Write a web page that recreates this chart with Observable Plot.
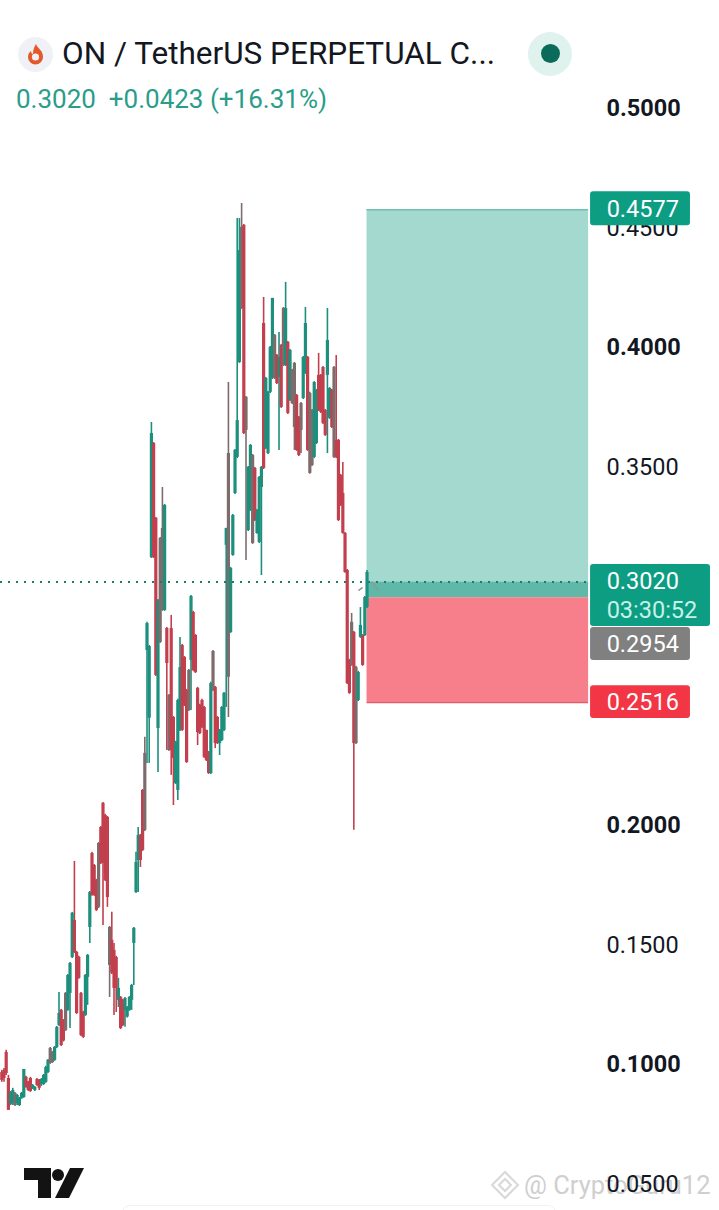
<!doctype html>
<html><head><meta charset="utf-8">
<script src="https://cdn.jsdelivr.net/npm/d3@7"></script>
<script src="https://cdn.jsdelivr.net/npm/@observablehq/plot@0.6"></script>
<style>
html,body{margin:0;padding:0;background:#fff;width:719px;height:1210px;overflow:hidden;font-family:Roboto,sans-serif}
#chart{position:absolute;left:0;top:0;z-index:2}
#chart svg{display:block}
.abs{position:absolute;white-space:nowrap}
#title{left:62px;top:35px;font-size:31.5px;line-height:38px;color:#131722;z-index:3}
#quote{left:16px;top:84px;font-size:26px;line-height:30px;color:#2a9d8a;z-index:3;word-spacing:0}
#badge{left:18px;top:37px;width:35px;height:35px;border-radius:50%;background:#eff1f7;z-index:3}
#pulse{left:528px;top:32px;width:44px;height:44px;border-radius:50%;background:#dff2ee;z-index:3}
#pulse i{position:absolute;left:13px;top:12px;width:19px;height:19px;border-radius:50%;background:#0b6b5a}
#mark{left:524px;top:1170px;font-size:25.5px;line-height:30px;color:#cfcfcf;z-index:1}
#gem{left:490px;top:1170px;z-index:1}
#tv{left:24px;top:1168px;z-index:3}
#panel{left:122px;top:1205px;width:432px;height:8px;border:1px solid #f2f2f2;border-radius:8px 8px 0 0;z-index:1}
</style></head>
<body>
<div id="chart"></div>
<div class="abs" id="badge"><svg width="35" height="35" viewBox="0 0 35 35"><path d="M18 7c1 4 7 6 7 13a7.500 7.500 0 0 1-15 0c0-3 1.500-5 3-6 0 2 1 3 2 3 0-4 1-7 3-10z" fill="#e4582a"/><circle cx="17.500" cy="20" r="3.600" fill="#eff1f7"/></svg></div>
<div class="abs" id="title">ON / TetherUS PERPETUAL C...</div>
<div class="abs" id="quote">0.3020&nbsp; +0.0423 (+16.31%)</div>
<div class="abs" id="pulse"><i></i></div>
<div class="abs" id="gem"><svg width="30" height="30" viewBox="0 0 30 30" fill="none" stroke="#d8d8d8" stroke-width="2"><path d="M15 2l13 13-13 13L2 15z"/><path d="M15 9l6 6-6 6-6-6z"/></svg></div>
<div class="abs" id="mark">@ CryptoGuru12</div>
<div class="abs" id="tv"><svg width="60" height="30" viewBox="0 0 60 30" fill="#131313"><path d="M0 0h27v30H14V12H0z"/><circle cx="34" cy="7" r="6"/><path d="M46 0h14L45 30H31z"/></svg></div>
<div class="abs" id="panel"></div>
<script>
// price candles, one column per array, oldest bar first
const tone = [
"r","r","r","r","t","t","g","t","t","t",
"t","r","r","r","t","t","r","r","t","t","t",
"t","g","g","t","t","t","r","r","g","t","t",
"t","r","r","r","r","r","t","t","t","r",
"r","r","g","r","r","r","r","g","r","r","r",
"t","r","r","t","t","t","t","t","t","t","r",
"r","g","t","t","t","r","r","t","g","g","t",
"r","g","r","r","t","t","t","r","r","r",
"g","t","r","r","r","r","r","r","r","r","t",
"g","r","r","t","t","t","t","g","t","t",
"t","t","t","g","r","g","t","t","g","r",
"t","t","t","r","t","t","t","t","g","r",
"t","r","g","t","r","t","g","g","r","r",
"g","t","t","r","g","g","t","t","r","r",
"r","r","t","t","r","g","r","r","r","r",
"r","r","r","g","r","g","t",
"t","r","t","t"];
const high = [
.0977,.0985,.1061,.0956,.0889,.0902,.0885,.0876,.0864,.0885,
.0981,.0952,.0931,.0948,.0918,.0910,.0943,.0939,.0943,.0960,.0994,
.1023,.1073,.1056,.1077,.1161,.1303,.1232,.1190,.1303,.1378,.1428,
.1638,.1851,.1475,.1454,.1303,.1224,.1378,.1462,.1725,.1889,
.1838,.1776,.1930,.1997,.2098,.2048,.2039,.1579,.1638,.1508,.1454,
.1362,.1286,.1274,.1282,.1244,.1286,.1337,.1575,.1889,.1993,.1964,
.2152,.2370,.2851,.2754,.3687,.3603,.3290,.2947,.3206,.3415,.3344,
.2830,.2549,.2880,.2457,.2353,.2529,.2788,.2759,.2708,.2570,
.2654,.2963,.2897,.2800,.2579,.2508,.2529,.2499,.2400,.2311,.2600,
.2733,.2583,.2457,.2403,.2499,.2558,.3244,.3854,.3081,.3302,
.3574,.4540,.4540,.4603,.4515,.3796,.3503,.3595,.3553,.3499,
.3323,.3461,.3503,.4210,.3875,.3817,.4005,.4206,.4055,.3971,
.4063,.4013,.4168,.4273,.4026,.3992,.3909,.3938,.3804,.3712,
.3771,.3963,.4168,.3963,.3813,.3741,.3858,.3825,.3976,.3888,
.3921,.3741,.4164,.3833,.3825,.3921,.3967,.3616,.3470,.3520,
.3227,.3072,.2696,.2888,.2813,.2667,.2646,
.2913,.2800,.2959,.3068];
const bodyTop = [
.0968,.0977,.1052,.0943,.0885,.0893,.0881,.0872,.0860,.0881,
.0981,.0948,.0927,.0943,.0914,.0906,.0939,.0935,.0939,.0956,.0989,
.1019,.1069,.1052,.1073,.1157,.1215,.1228,.1186,.1299,.1374,.1424,
.1634,.1604,.1470,.1449,.1299,.1219,.1374,.1458,.1721,.1884,
.1834,.1772,.1926,.1993,.2094,.2043,.2035,.1575,.1521,.1479,.1449,
.1320,.1282,.1270,.1278,.1240,.1282,.1332,.1571,.1847,.1960,.1960,
.2148,.2303,.2846,.2750,.3641,.3599,.3286,.2943,.3202,.3244,.3340,
.2825,.2545,.2825,.2453,.2349,.2524,.2662,.2754,.2704,.2566,
.2650,.2959,.2892,.2796,.2575,.2503,.2524,.2495,.2399,.2307,.2595,
.2729,.2579,.2453,.2399,.2495,.2554,.3244,.3557,.3076,.3298,
.3570,.3695,.4406,.4503,.4511,.3792,.3499,.3591,.3549,.3495,
.3319,.3457,.3499,.4101,.3871,.3813,.4001,.4206,.4051,.3967,
.3959,.4009,.4164,.4164,.4022,.3988,.3905,.3934,.3800,.3708,
.3766,.3959,.4101,.3959,.3808,.3737,.3854,.3821,.3884,.3884,
.3917,.3737,.4030,.3829,.3821,.3917,.3612,.3612,.3465,.3390,
.3223,.3068,.2692,.2851,.2809,.2662,.2641,
.2838,.2796,.2955,.3060];
const bodyBottom = [
.0935,.0943,.0964,.0810,.0835,.0839,.0830,.0839,.0830,.0860,
.0864,.0906,.0893,.0889,.0902,.0893,.0914,.0902,.0918,.0918,.0927,
.0968,.1006,.1010,.1019,.1073,.1165,.1081,.1100,.1144,.1228,.1299,
.1449,.1470,.1215,.1362,.1123,.1115,.1207,.1366,.1575,.1709,
.1709,.1646,.1659,.1843,.1843,.1772,.1700,.1416,.1383,.1320,.1320,
.1270,.1152,.1165,.1228,.1200,.1228,.1270,.1508,.1721,.1855,.1855,
.1897,.1981,.2733,.2450,.3122,.3122,.2629,.2407,.2767,.2901,.2901,
.2679,.2315,.2315,.2282,.2177,.2148,.2399,.2399,.2503,.2265,
.2482,.2692,.2650,.2641,.2390,.2386,.2411,.2286,.2273,.2219,.2219,
.2566,.2344,.2344,.2344,.2357,.2399,.3173,.2621,.2809,.3131,
.3390,.3541,.3938,.4164,.3641,.3654,.3235,.3319,.3181,.3277,
.3223,.3185,.3415,.3495,.3578,.3557,.3813,.3871,.3871,.3850,
.3875,.3750,.3925,.3925,.3725,.3779,.3766,.3666,.3570,.3549,
.3654,.3787,.3892,.3570,.3474,.3507,.3541,.3599,.3737,.3729,
.3683,.3633,.3884,.3704,.3666,.3541,.3541,.3277,.3340,.3223,
.3060,.2595,.2554,.2671,.2344,.2344,.2524,
.2788,.2671,.2796,.2913];
const low = [
.0927,.0927,.0956,.0810,.0830,.0830,.0826,.0830,.0826,.0856,
.0860,.0902,.0889,.0885,.0897,.0889,.0910,.0893,.0910,.0914,.0923,
.0964,.1002,.1006,.1015,.1069,.1161,.1077,.1096,.1140,.1224,.1152,
.1445,.1466,.1211,.1358,.1119,.1111,.1203,.1249,.1508,.1705,
.1705,.1642,.1654,.1838,.1583,.1767,.1659,.1282,.1378,.1207,.1219,
.1240,.1148,.1161,.1157,.1196,.1224,.1228,.1332,.1717,.1721,.1826,
.1893,.1976,.2261,.2261,.3118,.3118,.2625,.2223,.2763,.2897,.2897,
.2315,.2311,.2211,.2085,.2173,.2106,.2395,.2395,.2499,.2261,
.2478,.2482,.2646,.2637,.2336,.2382,.2407,.2282,.2269,.2215,.2215,
.2562,.2323,.2340,.2294,.2353,.2395,.2495,.2453,.2805,.3127,
.3386,.3536,.3934,.4160,.3637,.3110,.3231,.3315,.3177,.3273,
.3219,.3181,.3047,.3490,.3574,.3553,.3808,.3867,.3867,.3846,
.3570,.3746,.3921,.3921,.3720,.3775,.3762,.3570,.3566,.3545,
.3557,.3783,.3888,.3566,.3470,.3503,.3536,.3595,.3733,.3725,
.3679,.3629,.3557,.3700,.3662,.3536,.3536,.3273,.3336,.3219,
.3056,.2591,.2550,.2667,.1981,.2340,.2520,
.2784,.2667,.2792,.2909];
const bar = high.map((_, i) => i);
const candles = bar.map(i => ({bar: i, tone: tone[i], high: high[i], low: low[i], top: bodyTop[i], bottom: bodyBottom[i]}));

// axis: 0.3000 and 0.2500 sit fully behind the price tags in the reference, so they are not drawn
const boldTicks = [0.5, 0.4, 0.2, 0.1];
const plainTicks = [0.45, 0.35, 0.15, 0.05];

// long position tool
const lastBar = bar.length - 1, toolEndBar = 266.7, scaleEdgeBar = 267.6;
const target = 0.4577, entry = 0.3020, breakEven = 0.2954, stop = 0.2516;
const guideBars1 = [162.1, 168], guideBars2 = [164, 171.2];
const guidePrice1 = [0.2984, 0.3022], guidePrice2 = [0.2997, 0.2984];

// price tags: [top, bottom] of each tag, in price
const tags = [
  {top: 0.4652, bottom: 0.4510, right: 313, fill: "#0c9d83"},
  {top: 0.3093, bottom: 0.2834, right: 322.1, fill: "#0c9d83"},
  {top: 0.2829, bottom: 0.2691, right: 313, fill: "#808080"},
  {top: 0.2586, bottom: 0.2449, right: 313, fill: "#f23645"}
];
const tagTexts = [
  {t: "0.4577", y: 0.4577, fill: "#fff"},
  {t: "0.3020", y: 0.3022, fill: "#fff"},
  {t: "03:30:52", y: 0.2901, fill: "#c5f2e7"},
  {t: "0.2954", y: 0.2759, fill: "#fff"},
  {t: "0.2516", y: 0.2516, fill: "#fff"}
];
const tagTextBar = 274.9;

const chart = Plot.plot({
  width: 719, height: 1210,
  marginLeft: 0, marginRight: 0, marginTop: 0, marginBottom: 0,
  style: {background: "transparent", fontFamily: "Roboto, sans-serif"},
  x: {domain: [-0.59, 326.2], axis: null},
  y: {domain: [0.0391, 0.5452], axis: null},
  color: {domain: ["r", "t", "g"], range: ["#c23f4e", "#1c8f7d", "#7e6c6c"]},
  marks: [
    Plot.rect([0], {x1: lastBar, x2: toolEndBar, y1: entry, y2: target, fill: "#a3d9cf"}),
    Plot.rect([0], {x1: lastBar, x2: toolEndBar, y1: breakEven, y2: entry, fill: "#5fb8a8"}),
    Plot.rect([0], {x1: lastBar, x2: toolEndBar, y1: stop, y2: breakEven, fill: "#f77f8b"}),
    Plot.ruleY([target], {x1: lastBar, x2: toolEndBar, stroke: "#6fc0b2", strokeWidth: 1.5}),
    Plot.ruleY([stop], {x1: lastBar, x2: toolEndBar, stroke: "#e2606e", strokeWidth: 1.5}),
    Plot.ruleX(candles, {x: "bar", y1: "low", y2: "high", stroke: "tone", strokeWidth: 1.6}),
    Plot.ruleX(candles, {x: "bar", y1: "bottom", y2: "top", stroke: "tone", strokeWidth: 3.2}),
    Plot.link(guideBars1, {x1: (d) => d, x2: (d, i) => guideBars2[i], y1: (d, i) => guidePrice1[i], y2: (d, i) => guidePrice2[i], stroke: "#8f9a98", strokeWidth: 1.6}),
    Plot.ruleY([entry], {x1: -0.59, x2: scaleEdgeBar, stroke: "#14806f", strokeWidth: 2, strokeDasharray: "2,6"}),
    Plot.axisY(boldTicks, {anchor: "right", tickSize: 0, tickPadding: -113, tickFormat: ".4f", fontSize: 23.5, fontWeight: 700, fill: "#131722", label: null}),
    Plot.axisY(plainTicks, {anchor: "right", tickSize: 0, tickPadding: -113, tickFormat: ".4f", fontSize: 23.5, fill: "#131722", label: null}),
    Plot.rect(tags, {x1: scaleEdgeBar, x2: "right", y1: "bottom", y2: "top", fill: "fill", rx: 3}),
    Plot.text(tagTexts, {x: tagTextBar, y: "y", text: "t", fill: "fill", fontSize: 23.5, textAnchor: "start"})
  ]
});
document.getElementById("chart").append(chart);
</script>
</body></html>
